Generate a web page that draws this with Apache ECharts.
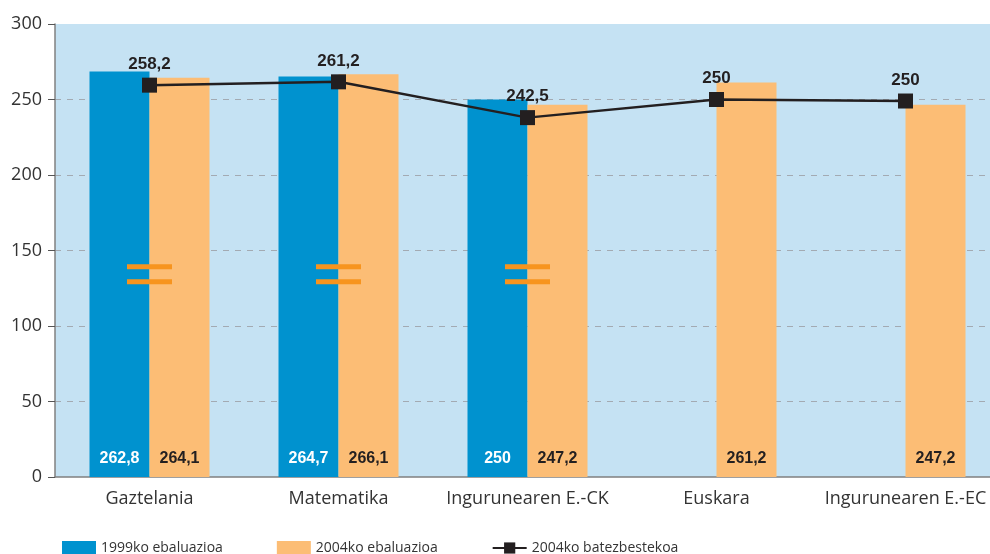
<!DOCTYPE html>
<html>
<head>
<meta charset="utf-8">
<title>Ebaluazioa</title>
<script src="https://cdn.jsdelivr.net/npm/echarts@6/dist/echarts.min.js"></script>
<style>
  html, body { margin: 0; padding: 0; background: #fff; overflow: hidden; }
  /* irudia eskuinean moztuta dago: grafikoa leihoa baino apur bat zabalagoa da */
  #chart { width: 1000px; height: 554px; }
</style>
</head>
<body>
<div id="chart"></div>
<script>
// kategoriak
var categories = ['Gaztelania', 'Matematika', 'Ingurunearen E.-CK', 'Euskara', 'Ingurunearen E.-EC'];

// barren altuerak (irudian irakurrita) eta haien etiketak
var eval1999 = [268.5, 265.3, 250, null, null];
var eval1999Labels = ['262,8', '264,7', '250', '', ''];
var eval2004 = [264.4, 266.8, 246.5, 261.3, 246.5];
var eval2004Labels = ['264,1', '266,1', '247,2', '261,2', '247,2'];

// batezbestekoaren lerroa
var avg2004 = [259.5, 261.7, 238, 250, 249];
var avg2004Labels = ['258,2', '261,2', '242,5', '250', '250'];

// ardatz-etenaren marrak (=)
var breakCats = [0, 1, 2];
var breakLevels = [139.3, 129.3];

var yTicks = [0, 50, 100, 150, 200, 250, 300];

var boldFont = "'Liberation Sans', Arial, sans-serif";
var plain = "'Open Sans', sans-serif";

var breakData = [];
breakCats.forEach(function (c) {
  breakLevels.forEach(function (v) { breakData.push([c, v]); });
});

var chart = echarts.init(document.getElementById('chart'));
chart.setOption({
  animation: false,
  grid: {
    left: 55, right: 0, top: 24, bottom: 77,
    show: true, backgroundColor: '#c5e2f3', borderWidth: 0
  },
  legend: {
    left: 57, top: 536,
    itemWidth: 34, itemHeight: 14, itemGap: 54,
    textStyle: { fontFamily: plain, fontSize: 14, color: '#333' },
    data: [
      { name: '1999ko ebaluazioa', icon: 'rect' },
      { name: '2004ko ebaluazioa', icon: 'rect' },
      { name: '2004ko batezbestekoa' }
    ]
  },
  xAxis: {
    type: 'category',
    data: categories,
    axisLine: { lineStyle: { color: '#808080', width: 1.5 } },
    axisTick: { interval: 0, length: 7, lineStyle: { color: '#808080' } },
    axisLabel: { interval: 0, fontFamily: plain, fontSize: 18, color: '#333', margin: 13 }
  },
  yAxis: {
    type: 'value',
    min: yTicks[0], max: yTicks[yTicks.length - 1], interval: 50,
    axisLine: { show: true, lineStyle: { color: '#808080', width: 1.5 } },
    axisTick: { show: true, length: 7, lineStyle: { color: '#555' } },
    axisLabel: { fontFamily: plain, fontSize: 18, color: '#333', margin: 13 },
    splitLine: {
      show: true,
      lineStyle: {
        type: [6, 6],
        color: ['transparent', '#a3aab2', '#a3aab2', '#a3aab2', '#a3aab2', '#a3aab2', 'transparent']
      }
    }
  },
  series: [
    {
      name: '1999ko ebaluazioa',
      type: 'bar',
      data: eval1999,
      barWidth: 60,
      barGap: 0,
      itemStyle: { color: '#0092cf' },
      label: {
        show: true, position: 'insideBottom', distance: 10,
        fontFamily: boldFont, fontWeight: 'bold', fontSize: 16, color: '#fff',
        formatter: function (p) { return eval1999Labels[p.dataIndex]; }
      }
    },
    {
      name: '2004ko ebaluazioa',
      type: 'bar',
      data: eval2004,
      barWidth: 60,
      barGap: 0,
      itemStyle: { color: '#fcbd75' },
      label: {
        show: true, position: 'insideBottom', distance: 10,
        fontFamily: boldFont, fontWeight: 'bold', fontSize: 16, color: '#231f20',
        formatter: function (p) { return eval2004Labels[p.dataIndex]; }
      }
    },
    {
      name: 'etena',
      type: 'scatter',
      data: breakData,
      symbol: 'rect',
      symbolSize: [45, 5],
      silent: true,
      itemStyle: { color: '#f7941e', opacity: 1 },
      z: 3
    },
    {
      name: '2004ko batezbestekoa',
      type: 'line',
      data: avg2004,
      symbol: 'rect',
      symbolSize: 15,
      lineStyle: { color: '#231f20', width: 2.5 },
      itemStyle: { color: '#231f20' },
      label: {
        show: true, position: 'top', distance: 5,
        fontFamily: boldFont, fontWeight: 'bold', fontSize: 17, color: '#231f20',
        formatter: function (p) { return avg2004Labels[p.dataIndex]; }
      },
      z: 5
    }
  ]
});
</script>
</body>
</html>
